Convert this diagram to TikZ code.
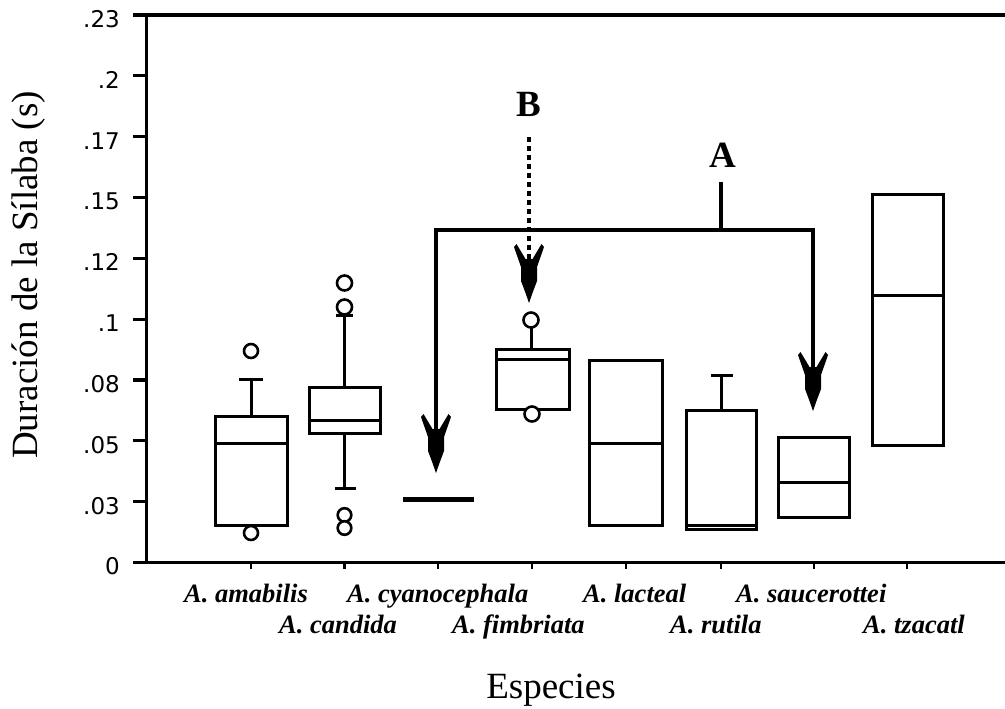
\documentclass[tikz,border=0pt]{standalone}
\usepackage{fontspec}
\setmainfont{Liberation Serif}
\newfontfamily\tickfont{DejaVu Sans}
\newcommand\bxplot[5]{%
  \draw[boxline] (#1,#3) rectangle (#2,#5);
  \draw[boxline] (#1,#4) -- (#2,#4);}
\begin{document}
\begin{tikzpicture}[x=1pt,y=-1pt,
  axis/.style={line width=3.3pt},
  boxline/.style={line width=3pt},
  outl/.style={line width=2.6pt,fill=white},
  brk/.style={line width=4.5pt,line join=miter},
  ticklbl/.style={font=\tickfont\fontsize{23}{26}\selectfont,anchor=east,inner sep=0pt},
  spname/.style={font=\fontsize{26.5}{30}\selectfont\bfseries\itshape,anchor=base west,inner sep=0pt},
  bigtitle/.style={font=\fontsize{37}{40}\selectfont,inner sep=0pt},
  letter/.style={font=\fontsize{37}{40}\selectfont\bfseries,inner sep=0pt},
  barbhead/.pic={\fill (0,0) -- (-3.5,-10) -- (-8,-22) -- (-8,-36) -- (-15,-56) -- (-12.5,-59)
     -- (-3.5,-44) -- (3.5,-44) -- (12.5,-59) -- (15,-56) -- (8,-36) -- (8,-22) -- (3.5,-10) -- cycle;}
]
\useasboundingbox (0,0) rectangle (1005,709);

% axes
\draw[axis] (133,15) -- (1005,15);
\draw[axis] (146.5,13.5) -- (146.5,564);
\draw[axis] (133,562.5) -- (1005,562.5);
\foreach \v [count=\i from 0] in {.23,.2,.17,.15,.12,.1,.08,.05,.03,0}{
  \pgfmathsetmacro\yy{15+\i*60.83}
  \draw[axis] (133,\yy) -- (146.5,\yy);
  \node[ticklbl] (yt\i) at (120,\yy+4) {\v};
}
\foreach \xx in {251,344.5,438,532,626,721,814,907}{
  \draw[line width=2.8pt] (\xx,562) -- (\xx,569);
}

% A. amabilis
\bxplot{215}{287}{416}{443}{525}
\draw[boxline] (251,416) -- (251,379);
\draw[boxline] (239,379) -- (263,379);
\draw[outl] (251,351) circle (7);
\draw[outl] (251,533) circle (7);

% A. candida
\bxplot{309}{380}{387}{420}{433}
\draw[boxline] (344.5,387) -- (344.5,315);
\draw[boxline] (336,315) -- (353,315);
\draw[boxline] (344.5,433) -- (344.5,488);
\draw[boxline] (335,488) -- (356,488);
\draw[outl] (344.5,283) circle (7.5);
\draw[outl] (344.5,307) circle (7.5);
\draw[outl] (344.5,515) circle (6.8);
\draw[outl] (344.5,528) circle (6.8);

% A. cyanocephala
\draw[line width=5pt] (403,499) -- (474,499);

% A. fimbriata
\bxplot{496}{569}{349}{359}{409}
\draw[boxline] (531,349) -- (531,328);
\draw[outl] (531,320) circle (7.5);
\draw[outl] (532,414) circle (7.5);

% A. lacteal
\bxplot{589}{662}{360}{443}{525}

% A. rutila
\bxplot{686}{756}{410}{525}{529}
\draw[boxline] (721,410) -- (721,375);
\draw[boxline] (711,375) -- (733,375);

% A. saucerottei
\bxplot{778}{849}{437}{482}{517}

% A. tzacatl
\bxplot{872}{943}{194}{295}{445}

% annotations
\node[letter] (A) at (723,155) {A};
\node[letter] (B) at (529,104) {B};
\coordinate (As) at (721,182);
\coordinate (jn) at (721,230);
\coordinate (cL) at (436,230);
\coordinate (cR) at (813,230);
\coordinate (tipL) at (436,473);
\coordinate (tipR) at (813,411);
\coordinate (Bs) at (529,137);
\coordinate (tipB) at (529,303);
\draw[brk,shorten <=20pt,shorten >=20pt] (tipL) -- (cL) -- (cR) -- (tipR);
\draw[brk] (As) -- (jn);
\draw[line width=4.5pt,dash pattern=on 5pt off 4pt,shorten >=20pt] (Bs) -- (tipB);
\pic at (tipL) {barbhead};
\pic at (tipR) {barbhead};
\pic at (tipB) {barbhead};

% species labels
\node[spname] (n1) at (184,602) {A. amabilis};
\node[spname] (n2) at (347,602) {A. cyanocephala};
\node[spname] (n3) at (583,602) {A. lacteal};
\node[spname] (n4) at (736,602) {A. saucerottei};
\node[spname] (n5) at (279,633) {A. candida};
\node[spname] (n6) at (452,633) {A. fimbriata};
\node[spname] (n7) at (670,633) {A. rutila};
\node[spname] (n8) at (863,633) {A. tzacatl};

% axis titles
\node[bigtitle,anchor=base] (xt) at (551,698) {Especies};
\node[bigtitle,rotate=90] (yt) at (29,275) {Duración de la Sílaba (s)};
\end{tikzpicture}
\end{document}
